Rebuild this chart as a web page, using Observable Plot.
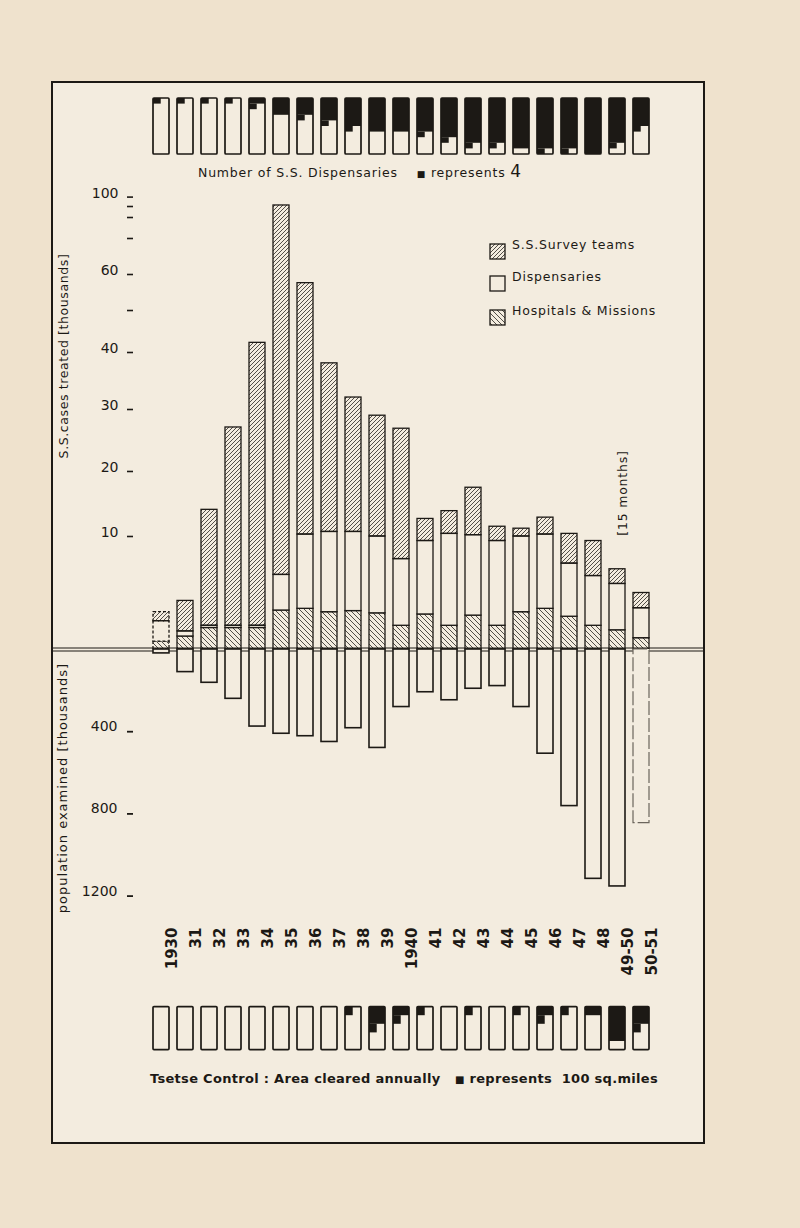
<!DOCTYPE html>
<html><head><meta charset="utf-8">
<script src="https://cdn.jsdelivr.net/npm/d3@7"></script>
<script src="https://cdn.jsdelivr.net/npm/@observablehq/plot@0.6"></script>
<style>
html,body{margin:0;padding:0;background:#efe2cd;}
#page{position:relative;width:800px;height:1228px;background:#efe2cd;font-family:"DejaVu Sans",sans-serif;color:#1c1915;overflow:hidden}
#frame{position:absolute;left:51px;top:81px;width:654px;height:1063px;border:2px solid #1c1915;background:#f3ecdf;box-sizing:border-box}
.rot{position:absolute;transform:translate(-50%,-50%) rotate(-90deg);white-space:nowrap}
.txt{position:absolute;white-space:nowrap}
svg.layer{position:absolute;left:0}
</style></head>
<body><div id="page"><div id="frame"></div></div>
<script>
// ---------------- data ----------------
const years = ["1930","31","32","33","34","35","36","37","38","39","1940","41","42","43","44","45","46","47","48","49-50","50-51"];
// S.S. cases treated (thousands), by source
const hospitals    = [0.7,1.15,1.9,1.9,1.9,3.45,3.6,3.3,3.4,3.2,2.1,3.1,2.1,3.0,2.1,3.3,3.6,2.9,2.1,1.7,1.0];
const dispensaries = [1.8,0.45,0.2,0.2,0.2,3.15,6.7,7.4,7.3,6.8,5.9,6.5,8.3,7.2,7.5,6.7,6.7,4.7,4.4,4.1,2.65];
const surveyTeams  = [0.8,2.7,12.0,25.0,40.2,84.5,47.3,27.4,21.4,19.0,18.9,3.1,3.5,7.3,1.9,1.2,2.6,2.8,3.1,1.3,1.35];
// population examined (thousands)
const populationExamined = [19,110,162,240,375,410,422,450,383,479,280,208,247,191,178,280,507,762,1116,1153,845];
// number of S.S. dispensaries, in units of 4 (one small square = 4)
const dispensaryUnits = [1,1,1,1,3,6,7,9,11,12,12,13,15,17,17,18,19,19,20,17,11];
// tsetse control: area cleared annually, in units of 100 sq. miles
const tsetseUnits = [0,0,0,0,0,0,0,0,1,5,3,1,0,1,0,1,3,1,2,8,5];
const casesTicks = [10,20,30,40,50,60,70,80,90,100];
const casesLabels = [10,20,30,40,60,100];
const popTicks = [400,800,1200];

// ---------------- styles ----------------
const INK = "#1c1915", PAPER = "#f3ecdf";
const XR = [141.9, 661], PAD = 0.32;
const STEP = (XR[1]-XR[0])/(years.length+PAD), HALF = STEP*(1-PAD)/2;
const page = document.getElementById("page");

// the hand-drawn, non-linear cases axis (tick value -> share of axis height)
const casesWarp = d3.scaleLinear()
  .domain([0,10,20,30,40,50,60,70,80,90,100])
  .range([0,24.98,39.35,53.05,65.65,74.93,82.89,90.85,95.49,97.92,100]);

// patterns
const defs = d3.select("body").append("svg").attr("width",0).attr("height",0).style("position","absolute").append("defs");
defs.append("pattern").attr("id","hatchSurvey").attr("patternUnits","userSpaceOnUse").attr("width",4).attr("height",4)
  .append("path").attr("d","M-1,1 l2,-2 M0,4 l4,-4 M3,5 l2,-2").attr("stroke",INK).attr("stroke-width",0.75);
defs.append("pattern").attr("id","hatchHosp").attr("patternUnits","userSpaceOnUse").attr("width",5).attr("height",5)
  .append("path").attr("d","M-1,4 l2,2 M0,0 l5,5 M4,-1 l2,2").attr("stroke",INK).attr("stroke-width",0.75);

const stacked = years.map((year,i)=>{
  const h = hospitals[i], d = h + dispensaries[i], s = d + surveyTeams[i];
  return {year, h, d, s};
});
const pop = years.map((year,i)=>({year,value:populationExamined[i]}));
const dispIcons = years.map((year,i)=>({year,units:dispensaryUnits[i]}));
const tsetseIcons = years.map((year,i)=>({year,units:tsetseUnits[i]}));

const xScale = {type:"band",domain:years,range:XR,padding:PAD,axis:null};
const base = {width:800,marginLeft:52,marginRight:96,marginTop:0,marginBottom:0,
  style:{background:"transparent",overflow:"visible",fontFamily:"DejaVu Sans, sans-serif",color:INK}};

function place(svg, top){ svg.classList.add("layer"); svg.style.top = top+"px"; page.appendChild(svg); }

function iconMarks(data, rows){
  return [
    Plot.barY(data,{x:"year",y1:0,y2:d=>Math.floor(d.units/2),fill:INK}),
    Plot.barY(data.filter(d=>d.units%2),{x:"year",y1:d=>Math.floor(d.units/2),y2:d=>Math.floor(d.units/2)+1,fill:INK,insetRight:HALF}),
    Plot.barY(data,{x:"year",y1:0,y2:rows,fill:"none",stroke:INK,strokeWidth:1.7,rx:1})
  ];
}

// top icons: number of dispensaries
place(Plot.plot({...base,height:75,x:xScale,y:{domain:[0,10],range:[10,66],axis:null},
  marks:iconMarks(dispIcons,10)}), 88);

// upper chart: S.S. cases treated
function caseBars(data, dash){
  const o = {stroke:INK,strokeWidth:1.3,strokeDasharray:dash};
  return [
    Plot.barY(data,{x:"year",y1:0,y2:"h",fill:"url(#hatchHosp)",...o}),
    Plot.barY(data,{x:"year",y1:"h",y2:"d",fill:PAPER,...o}),
    Plot.barY(data,{x:"year",y1:"d",y2:"s",fill:"url(#hatchSurvey)",...o})
  ];
}
place(Plot.plot({...base,height:480,x:xScale,
  y:{type:"linear",domain:[0,100],range:[469,16.6],transform:casesWarp,axis:null},
  marks:[
    ...caseBars(stacked.filter(d=>d.year!=="1930"),null),
    ...caseBars(stacked.filter(d=>d.year==="1930"),"3,2"),
    Plot.axisY(casesTicks,{anchor:"left",tickSize:6,dx:81,tickFormat:()=>"",label:null,strokeWidth:1.6}),
    Plot.axisY(casesLabels,{anchor:"left",tickSize:0,tickPadding:15,dx:81,dy:-4,label:null,fontSize:14,tickFormat:d=>String(d)}),
    Plot.ruleY([0],{dy:-1.5,stroke:INK,strokeWidth:1.2}),
    Plot.ruleY([0],{dy:1.5,stroke:INK,strokeWidth:1.2})
  ]}), 180);

// lower chart: population examined
place(Plot.plot({...base,height:300,x:xScale,
  y:{domain:[0,1300],range:[9,9+1300*0.2055],axis:null},
  marks:[
    Plot.barY(pop.filter(d=>d.year!=="50-51"),{x:"year",y:"value",fill:PAPER,stroke:INK,strokeWidth:1.6}),
    Plot.barY(pop.filter(d=>d.year==="50-51"),{x:"year",y:"value",fill:PAPER,stroke:"#6b655c",strokeWidth:1.2,strokeDasharray:"14,3"}),
    Plot.axisY(popTicks,{anchor:"left",tickSize:6,dx:81,tickFormat:()=>"",label:null,strokeWidth:1.8}),
    Plot.axisY(popTicks,{anchor:"left",tickSize:0,tickPadding:16,dx:81,dy:-5,label:null,fontSize:14,tickFormat:d=>String(d)})
  ]}), 640);

// year labels + tsetse icons
place(Plot.plot({...base,height:160,marginTop:27,x:xScale,y:{domain:[0,5],range:[106.6,149.6],axis:null},
  marks:[
    Plot.text(years,{x:d=>d,frameAnchor:"top",rotate:-90,textAnchor:"end",dx:5,fontSize:15,fontWeight:"bold",fill:INK}),
    ...iconMarks(tsetseIcons,5)
  ]}), 900);

// ---------------- texts ----------------
function addDiv(cls, html, css){ const d=document.createElement("div"); d.className=cls; d.innerHTML=html; Object.assign(d.style,css); page.appendChild(d); return d; }
addDiv("txt",'Number of S.S. Dispensaries&nbsp;&nbsp;&nbsp;&nbsp;<span style="font-size:9px">■</span> represents <span style="font-size:17px">4</span>',
  {left:"198px",top:"161px",fontSize:"12.5px",letterSpacing:"0.8px"});
addDiv("rot","S.S.cases treated [thousands]",{left:"63px",top:"356px",fontSize:"12.5px",letterSpacing:"0.6px"});
addDiv("rot","population examined [thousands]",{left:"62px",top:"788px",fontSize:"13px",letterSpacing:"1px"});
addDiv("rot","[15 months]",{left:"622px",top:"493px",fontSize:"12.5px",letterSpacing:"0.8px"});
addDiv("txt",'Tsetse Control : Area cleared annually&nbsp;&nbsp;&nbsp;<span style="font-size:10px">■</span> represents&nbsp; 100 sq.miles',
  {left:"150px",top:"1071px",fontSize:"13px",fontWeight:"bold",letterSpacing:"0.3px"});

// legend
const fillsLegend = {"S.S.Survey teams":"url(#hatchSurvey)","Dispensaries":PAPER,"Hospitals & Missions":"url(#hatchHosp)"};
const lg = d3.select(page).append("svg").attr("width",220).attr("height",100)
  .style("position","absolute").style("left","485px").style("top","238px");
[["S.S.Survey teams",6],["Dispensaries",38],["Hospitals & Missions",72]].forEach(([label,y])=>{
  lg.append("rect").attr("x",5).attr("y",y).attr("width",15).attr("height",15).attr("fill",fillsLegend[label]).attr("stroke",INK).attr("stroke-width",1.3);
  lg.append("text").attr("x",27).attr("y",y+5).attr("font-size",12.5).attr("letter-spacing",0.8).attr("fill",INK)
    .attr("font-family","DejaVu Sans, sans-serif").text(label);
});
</script>
</body></html>
